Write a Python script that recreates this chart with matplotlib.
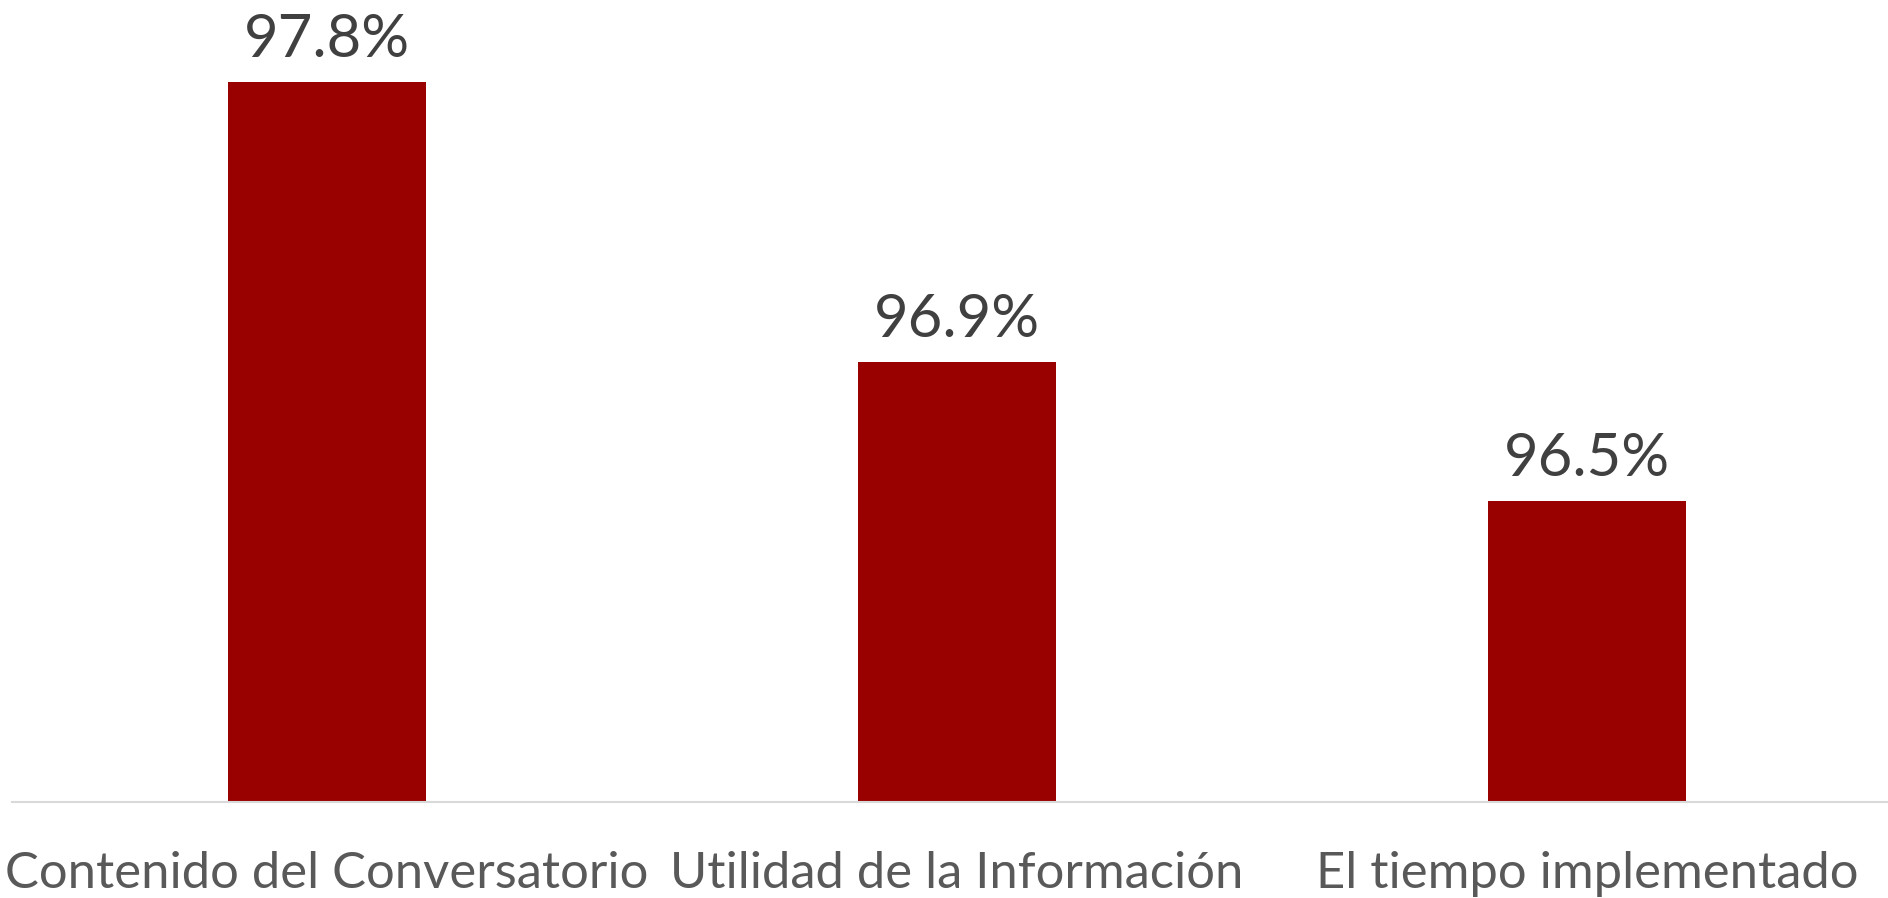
import matplotlib
matplotlib.use("Agg")
import matplotlib.pyplot as plt

categories = ["Contenido del Conversatorio", "Utilidad de la Información", "El tiempo implementado"]
values = [97.8, 96.93, 96.5]
labels = ["97.8%", "96.9%", "96.5%"]

plt.rcParams['font.family'] = ['Lato', 'DejaVu Sans']

W, H = 1888, 898
fig = plt.figure(figsize=(W / 100, H / 100), dpi=100)
fig.patch.set_facecolor("white")

ax = fig.add_axes([12 / W, 96 / H, 1890 / W, 802 / H])
ax.set_facecolor("none")
x = list(range(len(categories)))
bars = ax.bar(x, values, width=0.313, color="#990000", bottom=0)
ax.set_xlim(-0.5, 2.5)
ax.set_ylim(95.566, 95.566 + 802 / 322.3)

for rect, lab in zip(bars, labels):
    ax.annotate(lab, (rect.get_x() + rect.get_width() / 2, rect.get_height()),
                xytext=(0, 11), textcoords="offset points",
                ha="center", va="bottom", fontsize=43, color="#404040")

ax.set_xticks(x)
ax.set_xticklabels(categories, fontsize=36.5, color="#595959")
ax.tick_params(axis="x", length=0, pad=35)
ax.set_yticks([])
for s in ["top", "right", "left"]:
    ax.spines[s].set_visible(False)
ax.spines["bottom"].set_color("#d9d9d9")
ax.spines["bottom"].set_linewidth(1.5)

fig.savefig("out.png", dpi=100)
